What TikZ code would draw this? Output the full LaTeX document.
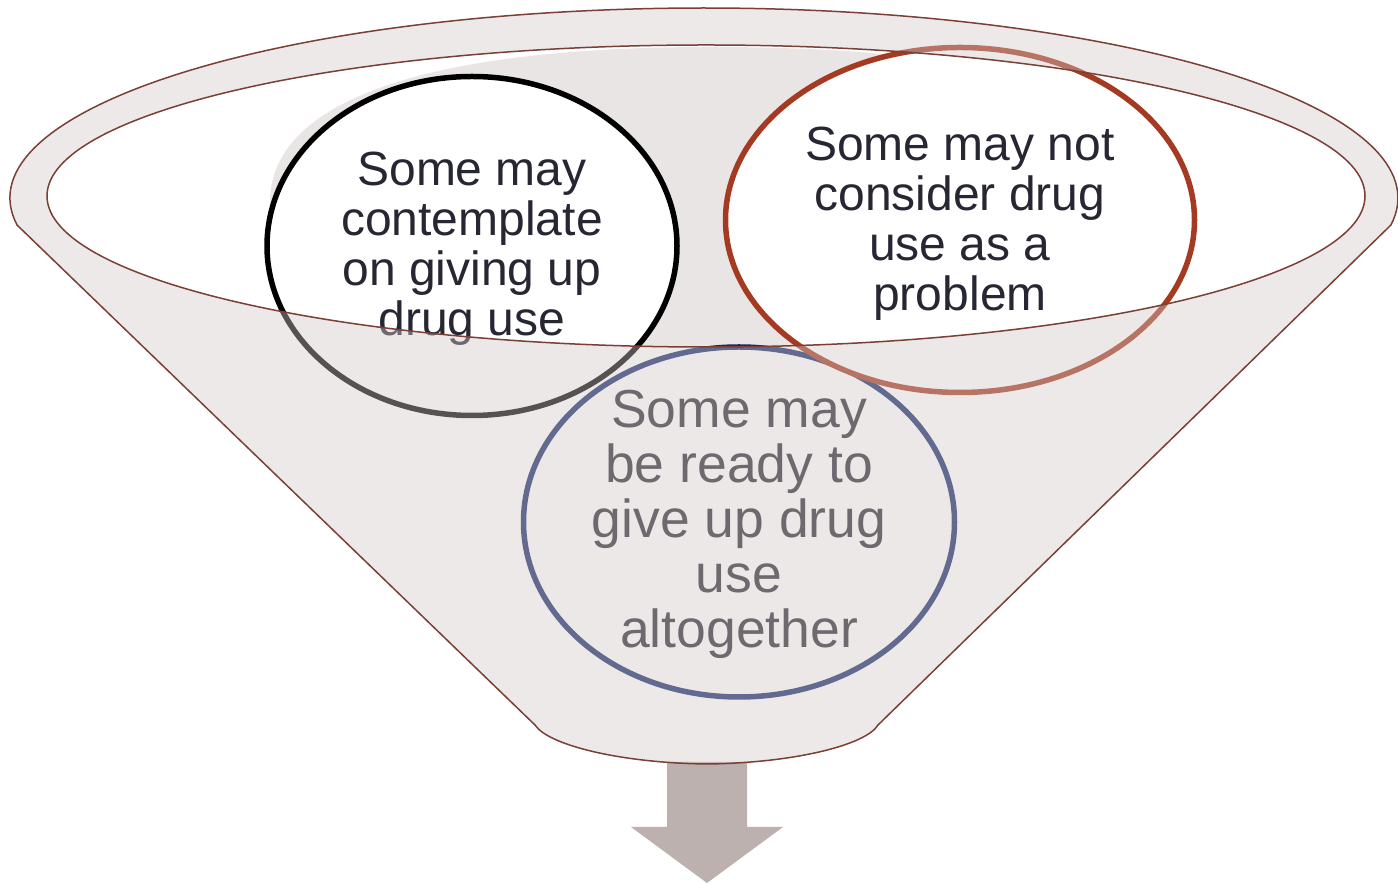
\documentclass[tikz,border=0pt]{standalone}
\usepackage{fontspec}
\setmainfont{Liberation Sans}
\usetikzlibrary{shapes.geometric}
\definecolor{rimline}{HTML}{7A3F35}
\definecolor{overlaycol}{HTML}{D3C9C7}
\definecolor{backgray}{HTML}{E9E5E4}
\definecolor{arrowcol}{HTML}{BDB1B0}
\definecolor{txtcol}{HTML}{272733}
\definecolor{redline}{HTML}{A53A22}
\definecolor{navyline}{HTML}{14296B}
\tikzset{
  bubble/.style={ellipse, draw, line width=5.5pt, fill=white, inner sep=0pt},
  bubbletext/.style={align=center, text=txtcol, inner sep=0pt},
  funneloutline/.style={draw=rimline, line width=1.5pt},
}
\begin{document}
\begin{tikzpicture}[x=1pt,y=1pt]
\useasboundingbox (0,0) rectangle (1398,883);
% arrow out of the funnel
\fill[arrowcol] (667,121) -- (747,121) -- (747,56) -- (783,56) -- (707,0) -- (631,56) -- (667,56) -- cycle;
% back (inner) surface of the funnel
\begin{scope}
  \clip (706,687) ellipse [x radius=659pt, y radius=151pt];
  \fill[backgray] (270,683) .. controls (272,780) and (420,836) .. (710,836)
     .. controls (1000,836) and (1152,790) .. (1152,683)
     .. controls (1152,500) and (1000,450) .. (710,450)
     .. controls (420,450) and (270,500) .. (270,683) -- cycle;
\end{scope}
% bubbles
\node[bubble, draw=navyline, minimum width=431pt, minimum height=350pt] (c3) at (739,361) {};
\node[bubbletext, font={\fontsize{53.5pt}{55pt}\selectfont}] (t3) at ([yshift=-2.5pt]c3.center) {Some may\\be ready to\\give up drug\\use\\altogether};
\node[bubble, draw=black, minimum width=410pt, minimum height=339pt] (c1) at (472,637) {};
\node[bubbletext, font={\fontsize{48pt}{50pt}\selectfont}] (t1) at ([yshift=-3pt]c1.center) {Some may\\contemplate\\on giving up\\drug use};
\node[bubble, draw=redline, minimum width=469pt, minimum height=345pt] (c2) at (960,663) {};
\node[bubbletext, font={\fontsize{48pt}{50pt}\selectfont}] (t2) at ([yshift=-3.5pt]c2.center) {Some may not\\consider drug\\use as a\\problem};
% translucent front of the funnel
\fill[overlaycol, fill opacity=0.41, even odd rule]
  (17.1,657.9) arc[start angle=188.2, end angle=-8.2, x radius=694pt, y radius=190pt]
  -- (878,158) .. controls (866,138) and (794,120) .. (707,119)
  .. controls (620,120) and (548,138) .. (535,158) -- cycle
  (706,687) ellipse [x radius=659pt, y radius=151pt];
% funnel outlines
\draw[funneloutline, line join=round]
  (17.1,657.9) arc[start angle=188.2, end angle=-8.2, x radius=694pt, y radius=190pt]
  -- (878,158) .. controls (866,138) and (794,120) .. (707,119)
  .. controls (620,120) and (548,138) .. (535,158) -- cycle;
\draw[funneloutline] (706,687) ellipse [x radius=659pt, y radius=151pt];
\end{tikzpicture}
\end{document}
